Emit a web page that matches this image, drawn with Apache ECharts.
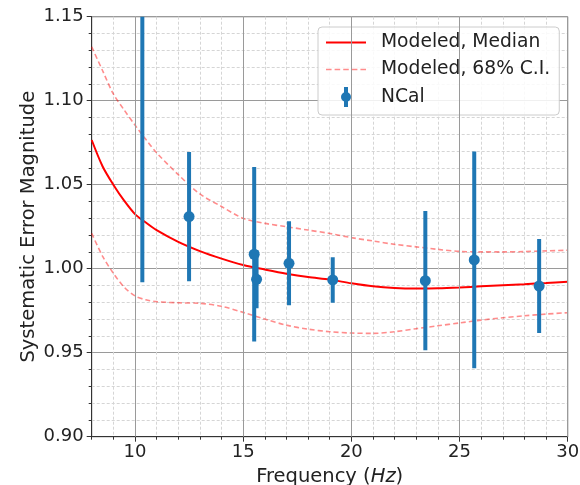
<!DOCTYPE html>
<html>
<head>
<meta charset="utf-8">
<script src="https://cdn.jsdelivr.net/npm/echarts@6/dist/echarts.min.js"></script>
<style>html,body{margin:0;padding:0;background:#fff;}#c{width:580px;height:485px;}</style>
</head>
<body>
<div id="c"></div>
<script>
// NCal measurements
var ncalFreq = [10.34, 12.50, 15.51, 15.62, 17.12, 19.14, 23.42, 25.68, 28.68];
var ncalVal  = [1.170, 1.031, 1.0086, 0.9937, 1.0032, 0.9933, 0.9929, 1.0052, 0.9897];
var ncalErr  = [0.178, 0.0385, 0.052, 0.0173, 0.025, 0.0135, 0.0414, 0.0645, 0.028];

// Modeled curves
var modelFreq   = [8, 8.5, 9, 9.5, 10, 10.5, 11, 12, 13, 14, 15, 16, 17, 18, 19, 20, 21, 22, 23, 24, 25, 26, 27, 28, 29, 30];
var modelMedian = [1.0766, 1.061, 1.050, 1.0405, 1.0325, 1.0275, 1.023, 1.016, 1.0105, 1.006, 1.0022, 0.9995, 0.997, 0.995, 0.9935, 0.9913, 0.9895, 0.9885, 0.9882, 0.9883, 0.9888, 0.9895, 0.9902, 0.9908, 0.9915, 0.9923];
var modelUpper  = [1.132, 1.118, 1.104, 1.0945, 1.0855, 1.077, 1.069, 1.056, 1.0445, 1.037, 1.030, 1.027, 1.025, 1.023, 1.021, 1.0185, 1.0165, 1.0145, 1.013, 1.0115, 1.0103, 1.010, 1.010, 1.0102, 1.0106, 1.011];
var modelLower  = [1.021, 1.0075, 0.9973, 0.989, 0.9838, 0.9815, 0.9804, 0.9797, 0.9794, 0.9776, 0.974, 0.970, 0.9664, 0.964, 0.9625, 0.9617, 0.9615, 0.9625, 0.9643, 0.966, 0.9677, 0.9694, 0.9708, 0.972, 0.973, 0.9738];

var xMajorTicks = [10, 15, 20, 25, 30];

function pairs(xs, ys) { return xs.map(function (x, i) { return [x, ys[i]]; }); }

var FONT = 'DejaVu Sans';
var TXT = '#222';
var CI_COLOR = 'rgba(255,0,0,0.45)';
var chart = echarts.init(document.getElementById('c'), null, {renderer: 'canvas'});

var errData = ncalFreq.map(function (f, i) { return [f, ncalVal[i] - ncalErr[i], ncalVal[i] + ncalErr[i]]; });

var option = {
  backgroundColor: '#fff',
  animation: false,
  grid: { left: 91.7, right: 12.3, top: 16.7, bottom: 48.3, outerBoundsMode: 'none', containLabel: false, show: true, borderColor: '#444', borderWidth: 1, backgroundColor: 'transparent' },
  xAxis: [{
    type: 'value', min: 8, max: 30, interval: 1, position: 'bottom',
    axisLine: { show: true, onZero: false, lineStyle: { color: '#333' } },
    axisTick: { show: true, length: 3, lineStyle: { color: '#333' } },
    axisLabel: { show: false },
    splitLine: { show: true, lineStyle: { color: '#d5d5d5', type: [3, 2], width: 1 } }
  }, {
    type: 'value', min: 8, max: 30, position: 'bottom',
    name: 'Frequency ({i|Hz})', nameLocation: 'middle', nameGap: 25,
    nameTextStyle: { fontFamily: FONT, fontSize: 19.5, color: TXT, rich: { i: { fontStyle: 'italic', fontFamily: FONT, fontSize: 19.5, color: TXT } } },
    axisLine: { show: false },
    axisTick: { show: true, length: 5, customValues: xMajorTicks, lineStyle: { color: '#333' } },
    axisLabel: { show: true, customValues: xMajorTicks, margin: 7, fontFamily: FONT, fontSize: 18, color: TXT },
    splitLine: { show: false }
  }],
  yAxis: {
    type: 'value', min: 0.90, max: 1.15, interval: 0.05,
    name: 'Systematic Error Magnitude', nameLocation: 'middle', nameGap: 53, nameMoveOverlap: false,
    nameTextStyle: { fontFamily: FONT, fontSize: 19.5, color: TXT },
    axisLine: { show: true, onZero: false, lineStyle: { color: '#333' } },
    axisTick: { show: true, length: 5, lineStyle: { color: '#333' } },
    minorTick: { show: true, splitNumber: 5, length: 3, lineStyle: { color: '#333' } },
    axisLabel: { margin: 8, fontFamily: FONT, fontSize: 18, color: TXT, formatter: function (v) { return v.toFixed(2); } },
    splitLine: { show: true, lineStyle: { color: '#9a9a9a', width: 1 } },
    minorSplitLine: { show: true, lineStyle: { color: '#d5d5d5', type: [3, 2], width: 1 } }
  },
  legend: {
    orient: 'vertical', left: 318, top: 27,
    padding: [6, 9, 8, 8], itemWidth: 40, itemHeight: 20, itemGap: 8,
    backgroundColor: 'rgba(255,255,255,0.85)', borderColor: '#cccccc', borderWidth: 1, borderRadius: 4,
    textStyle: { fontFamily: FONT, fontSize: 18.7, color: TXT, padding: [0, 0, 0, 10] },
    data: [
      { name: 'Modeled, Median', icon: 'path://M0,0 L40,0 L40,2 L0,2 Z', itemStyle: { color: '#ff0000' } },
      { name: 'Modeled, 68% C.I.', icon: 'path://M0,0 L5.5,0 L5.5,1.6 L0,1.6 Z M8.5,0 L14,0 L14,1.6 L8.5,1.6 Z M17,0 L22.5,0 L22.5,1.6 L17,1.6 Z M25.5,0 L31,0 L31,1.6 L25.5,1.6 Z M34,0 L39.5,0 L39.5,1.6 L34,1.6 Z', itemStyle: { color: CI_COLOR } },
      { name: 'NCal', icon: 'path://M3,0 L7,0 L7,20 L3,20 Z M0,10 A5,5 0 1,1 10,10 A5,5 0 1,1 0,10 Z', itemStyle: { color: '#1f77b4' } }
    ]
  },
  series: [
    {
      name: 'Modeled, 68% C.I.', type: 'line', xAxisIndex: 0, data: pairs(modelFreq, modelLower),
      symbol: 'none', smooth: 0.3, z: 2,
      lineStyle: { color: CI_COLOR, width: 1.6, type: [5, 3] }, itemStyle: { color: CI_COLOR },
      markLine: {
        silent: true, symbol: ['none', 'none'], label: { show: false },
        lineStyle: { color: '#9a9a9a', width: 1, type: 'solid' },
        data: xMajorTicks.map(function (v) { return { xAxis: v }; })
      }
    },
    {
      name: 'Modeled, 68% C.I.', type: 'line', xAxisIndex: 0, data: pairs(modelFreq, modelUpper),
      symbol: 'none', smooth: 0.3, z: 2,
      lineStyle: { color: CI_COLOR, width: 1.6, type: [5, 3] }, itemStyle: { color: CI_COLOR }
    },
    {
      name: 'Modeled, Median', type: 'line', xAxisIndex: 0, data: pairs(modelFreq, modelMedian),
      symbol: 'none', smooth: 0.3, z: 3,
      lineStyle: { color: '#ff0000', width: 2 }, itemStyle: { color: '#ff0000' }
    },
    {
      name: 'NCal err', type: 'custom', xAxisIndex: 0, data: errData, clip: true, z: 4,
      encode: { x: 0, y: [1, 2] },
      renderItem: function (params, api) {
        var p1 = api.coord([api.value(0), api.value(1)]);
        var p2 = api.coord([api.value(0), api.value(2)]);
        return { type: 'line', shape: { x1: p1[0], y1: p1[1], x2: p2[0], y2: p2[1] }, style: { stroke: '#1f77b4', lineWidth: 4 } };
      }
    },
    {
      name: 'NCal', type: 'scatter', xAxisIndex: 0, data: pairs(ncalFreq, ncalVal), clip: true, z: 5,
      symbol: 'circle', symbolSize: 11, itemStyle: { color: '#1f77b4', opacity: 1 }
    }
  ]
};
chart.setOption(option);
</script>
</body>
</html>
